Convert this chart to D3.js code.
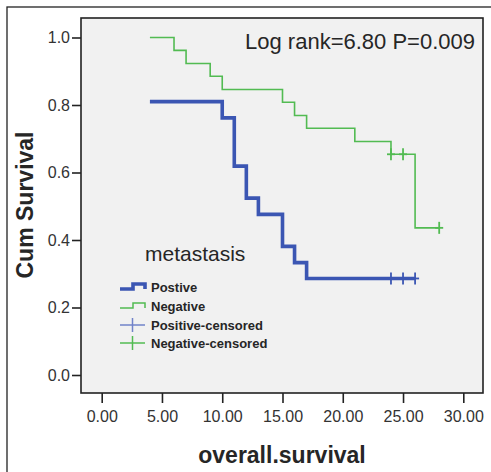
<!DOCTYPE html>
<html>
<head>
<meta charset="utf-8">
<script src="https://cdn.jsdelivr.net/npm/d3@7"></script>
<style>
	body { margin: 0; background: #fff; }
	svg { display: block; }
</style>
</head>
<body>
<script>
// chart values
const xTicks = [0, 5, 10, 15, 20, 25, 30];
const yTicks = [0, 0.2, 0.4, 0.6, 0.8, 1.0];

const posStart = [4, 0.810];
const posEventTimes = [10, 11, 12, 13, 15, 16, 17];
const posSurvival = [0.762, 0.619, 0.524, 0.476, 0.381, 0.333, 0.286];
const posCensored = [24, 25, 26];

const negStart = [4, 1.0];
const negEventTimes = [6, 7, 9, 10, 15, 16, 17, 21, 24, 26];
const negSurvival = [0.962, 0.923, 0.885, 0.846, 0.808, 0.769, 0.731, 0.692, 0.654, 0.436];
const negCensored = [24, 25, 28];

const legendLabels = ['Postive', 'Negative', 'Positive-censored', 'Negative-censored'];

const width = 491;
const height = 472;
const BLUE = '#3b56b3';
const GREEN = '#52bb52';
const LIGHT_BLUE = '#7183c9';
const FRAME = '#222';
const TEXT = '#262626';

const svg = d3.select('body')
	.append('svg')
	.attr('width', width)
	.attr('height', height);

// outer frame
svg.append('rect')
	.attr('x', 7).attr('y', 7)
	.attr('width', 500).attr('height', 500)
	.attr('fill', 'none')
	.attr('stroke', FRAME)
	.attr('stroke-width', 1.3);

const plot = { left: 81, top: 18, right: 483, bottom: 393 };

const x = d3.scaleLinear().domain([0, 30]).range([101.7, 463.3]);
const y = d3.scaleLinear().domain([0, 1]).range([375, 37.5]);

svg.append('rect')
	.attr('x', plot.left).attr('y', plot.top)
	.attr('width', plot.right - plot.left)
	.attr('height', plot.bottom - plot.top)
	.attr('fill', '#f1f1f1')
	.attr('stroke', FRAME)
	.attr('stroke-width', 1.6);

// axes
const yAxis = svg.append('g')
	.attr('transform', `translate(${plot.left},0)`)
	.call(d3.axisLeft(y).tickValues(yTicks).tickSize(9).tickPadding(2).tickFormat(d3.format('.1f')));

const xAxis = svg.append('g')
	.attr('transform', `translate(0,${plot.bottom})`)
	.call(d3.axisBottom(x).tickValues(xTicks).tickSize(10).tickPadding(8).tickFormat(d3.format('.2f')));

[xAxis, yAxis].forEach(g => {
	g.select('.domain').remove();
	g.selectAll('.tick line').attr('stroke', FRAME).attr('stroke-width', 1.6);
	g.selectAll('.tick text')
		.attr('fill', '#333')
		.style('font-family', 'Liberation Sans, Arial, sans-serif')
		.style('font-size', '16px');
});

// axis titles
svg.append('text')
	.attr('transform', 'translate(33,205) rotate(-90)')
	.attr('text-anchor', 'middle')
	.attr('fill', TEXT)
	.style('font-family', 'Liberation Sans, Arial, sans-serif')
	.style('font-weight', 'bold')
	.style('font-size', '23px')
	.text('Cum Survival');

svg.append('text')
	.attr('x', 282).attr('y', 463)
	.attr('text-anchor', 'middle')
	.attr('fill', TEXT)
	.style('font-family', 'Liberation Sans, Arial, sans-serif')
	.style('font-weight', 'bold')
	.style('font-size', '23px')
	.text('overall.survival');

svg.append('text')
	.attr('x', 475).attr('y', 49)
	.attr('text-anchor', 'end')
	.attr('fill', TEXT)
	.style('font-family', 'Liberation Sans, Arial, sans-serif')
	.style('font-size', '22px')
	.text('Log rank=6.80 P=0.009');

//#region curves
function stepPoints(start, times, surv, end) {
	const pts = [start];
	times.forEach((t, i) => pts.push([t, surv[i]]));
	pts.push([end, surv[surv.length - 1]]);
	return pts;
}

const line = d3.line()
	.x(d => x(d[0]))
	.y(d => y(d[1]))
	.curve(d3.curveStepAfter);

const posPts = stepPoints(posStart, posEventTimes, posSurvival, d3.max(posCensored));
const negPts = stepPoints(negStart, negEventTimes, negSurvival, d3.max(negCensored));

svg.append('path')
	.attr('d', line(negPts))
	.attr('fill', 'none')
	.attr('stroke', GREEN)
	.attr('stroke-width', 1.6);

svg.append('path')
	.attr('d', line(posPts))
	.attr('fill', 'none')
	.attr('stroke', BLUE)
	.attr('stroke-width', 3.6)
	.attr('stroke-linejoin', 'miter');

function survivalAt(t, start, times, surv) {
	let s = start[1];
	times.forEach((tt, i) => { if (tt <= t) s = surv[i]; });
	return s;
}

function drawCensors(times, start, evTimes, surv, color, w) {
	const g = svg.append('g').attr('stroke', color).attr('stroke-width', w);
	times.forEach(t => {
		const cx = x(t);
		const cy = y(survivalAt(t, start, evTimes, surv));
		g.append('line').attr('x1', cx).attr('x2', cx).attr('y1', cy - 6).attr('y2', cy + 6);
		g.append('line').attr('x1', cx - 4).attr('x2', cx + 4).attr('y1', cy).attr('y2', cy);
	});
}

drawCensors(negCensored, negStart, negEventTimes, negSurvival, GREEN, 1.8);
drawCensors(posCensored, posStart, posEventTimes, posSurvival, BLUE, 1.8);
//#endregion

//#region legend
svg.append('text')
	.attr('x', 145).attr('y', 261)
	.attr('fill', TEXT)
	.style('font-family', 'Liberation Sans, Arial, sans-serif')
	.style('font-size', '21px')
	.text('metastasis');

const legendY = [287, 306, 325, 343];
const legend = svg.append('g');

legend.append('path')
	.attr('d', `M120,${legendY[0] + 2}H133V${legendY[0] - 3}H145V${legendY[0] + 2}`)
	.attr('fill', 'none').attr('stroke', BLUE).attr('stroke-width', 3.6);
legend.append('path')
	.attr('d', `M120,${legendY[1] + 2}H133V${legendY[1] - 3}H145V${legendY[1] + 2}`)
	.attr('fill', 'none').attr('stroke', GREEN).attr('stroke-width', 1.5);
[[legendY[2], LIGHT_BLUE], [legendY[3], GREEN]].forEach(([ly, c]) => {
	legend.append('line').attr('x1', 120).attr('x2', 145).attr('y1', ly).attr('y2', ly)
		.attr('stroke', c).attr('stroke-width', 1.5);
	legend.append('line').attr('x1', 132.5).attr('x2', 132.5).attr('y1', ly - 7).attr('y2', ly + 7)
		.attr('stroke', c).attr('stroke-width', 1.5);
});

legend.selectAll('text.item')
	.data(legendLabels)
	.enter()
	.append('text')
	.attr('class', 'item')
	.attr('x', 151)
	.attr('y', (d, i) => legendY[i] + 5)
	.attr('fill', TEXT)
	.style('font-family', 'Liberation Sans, Arial, sans-serif')
	.style('font-weight', 'bold')
	.style('font-size', '13px')
	.text(d => d);
//#endregion
</script>
</body>
</html>
